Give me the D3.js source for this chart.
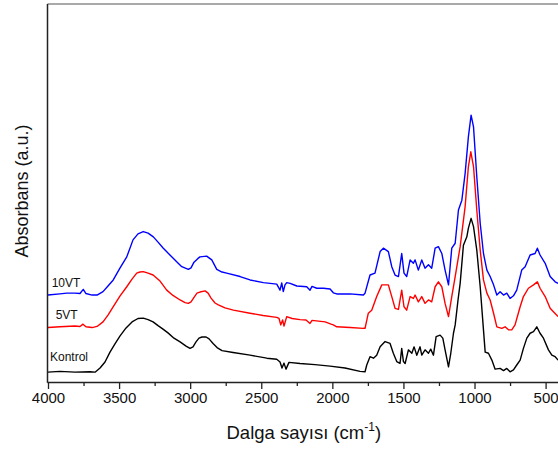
<!DOCTYPE html>
<html>
<head>
<meta charset="utf-8">
<script src="https://cdn.jsdelivr.net/npm/d3@7"></script>
<style>
  html, body { margin: 0; padding: 0; background: #fff; }
  svg { display: block; font-family: Arial, "Liberation Sans", sans-serif; }
</style>
</head>
<body>
<svg id="chart" width="558" height="451"></svg>
<script>
// ---- data (wavenumber in cm-1, absorbance in a.u.) ----
const kontrolWn = [4000,3916,3810,3705,3669,3634,3599,3564,3529,3493,3451,3409,3367,3330,3296,3261,3226,3191,3156,3114,3071,3029,3001,2980,2959,2938,2917,2888,2867,2839,2811,2776,2698,2579,2461,2391,2368,2354,2340,2326,2305,2227,2122,2016,1911,1805,1770,1758,1735,1711,1688,1664,1629,1594,1571,1547,1524,1512,1500,1488,1465,1441,1425,1406,1383,1371,1348,1324,1308,1289,1270,1242,1223,1207,1183,1167,1148,1136,1116,1101,1078,1054,1043,1024,1007,984,960,937,925,902,878,855,820,796,773,750,726,703,679,656,632,609,585,562,539,515,480,456,433,412];
const kontrolAbs = [0.026,0.028,0.026,0.027,0.026,0.037,0.053,0.079,0.101,0.122,0.143,0.159,0.168,0.169,0.165,0.159,0.149,0.140,0.130,0.116,0.106,0.095,0.089,0.093,0.106,0.116,0.119,0.119,0.114,0.102,0.091,0.083,0.078,0.071,0.063,0.060,0.053,0.037,0.050,0.034,0.052,0.049,0.046,0.042,0.037,0.028,0.027,0.045,0.067,0.063,0.071,0.093,0.107,0.102,0.076,0.054,0.049,0.089,0.054,0.049,0.085,0.076,0.093,0.071,0.093,0.071,0.085,0.076,0.087,0.071,0.120,0.124,0.116,0.085,0.040,0.076,0.129,0.151,0.217,0.261,0.362,0.384,0.407,0.433,0.411,0.349,0.252,0.138,0.079,0.076,0.058,0.034,0.036,0.030,0.036,0.027,0.032,0.045,0.058,0.089,0.116,0.129,0.133,0.146,0.129,0.116,0.085,0.071,0.067,0.058];

const vt5Wn = [4000,3916,3810,3775,3754,3733,3690,3655,3613,3578,3543,3493,3446,3409,3376,3353,3330,3296,3261,3212,3165,3121,3071,3036,3013,2994,2973,2952,2931,2895,2874,2853,2825,2802,2755,2696,2579,2487,2391,2375,2363,2350,2340,2321,2283,2227,2185,2157,2143,2051,2009,1993,1969,1875,1782,1770,1747,1723,1688,1652,1606,1582,1559,1535,1512,1496,1477,1453,1430,1418,1395,1371,1348,1324,1301,1277,1254,1230,1207,1183,1160,1136,1101,1066,1043,1026,1007,984,960,937,913,890,866,843,808,785,761,738,715,679,656,621,585,558,539,503,468,445,412];
const vt5Abs = [0.144,0.146,0.148,0.147,0.153,0.146,0.144,0.147,0.159,0.177,0.198,0.228,0.252,0.272,0.288,0.291,0.292,0.288,0.283,0.267,0.243,0.229,0.217,0.210,0.208,0.212,0.224,0.235,0.238,0.241,0.235,0.222,0.209,0.204,0.196,0.190,0.182,0.176,0.171,0.168,0.151,0.164,0.148,0.173,0.168,0.165,0.164,0.155,0.163,0.159,0.153,0.151,0.146,0.144,0.142,0.142,0.182,0.190,0.226,0.257,0.257,0.226,0.195,0.192,0.243,0.199,0.190,0.226,0.221,0.230,0.212,0.226,0.208,0.217,0.212,0.252,0.265,0.252,0.208,0.173,0.226,0.279,0.358,0.464,0.570,0.609,0.570,0.455,0.349,0.270,0.235,0.217,0.182,0.146,0.142,0.146,0.138,0.138,0.151,0.199,0.226,0.248,0.257,0.265,0.248,0.226,0.195,0.186,0.173];

const vt10Wn = [4000,3916,3868,3810,3775,3752,3733,3690,3655,3613,3578,3541,3493,3446,3402,3367,3330,3296,3259,3226,3189,3156,3121,3095,3059,3013,2994,2973,2945,2931,2884,2848,2813,2776,2743,2649,2579,2485,2391,2368,2356,2345,2333,2321,2297,2250,2180,2157,2143,2110,2063,2016,1993,1969,1875,1782,1770,1735,1700,1664,1641,1606,1582,1559,1535,1512,1496,1477,1453,1430,1418,1395,1371,1348,1324,1301,1277,1254,1230,1207,1183,1160,1136,1113,1089,1066,1043,1024,1007,984,960,937,913,890,866,843,820,796,773,750,726,703,668,644,609,574,558,539,503,468,433,412];
const vt10Abs = [0.230,0.233,0.235,0.235,0.234,0.245,0.234,0.230,0.230,0.239,0.254,0.270,0.302,0.331,0.376,0.392,0.398,0.394,0.384,0.370,0.354,0.341,0.328,0.318,0.305,0.298,0.302,0.317,0.327,0.331,0.333,0.323,0.298,0.291,0.288,0.279,0.270,0.263,0.259,0.243,0.262,0.239,0.257,0.263,0.261,0.254,0.252,0.243,0.253,0.248,0.248,0.246,0.236,0.233,0.233,0.230,0.235,0.283,0.288,0.345,0.354,0.345,0.305,0.283,0.279,0.340,0.288,0.279,0.323,0.314,0.323,0.296,0.323,0.301,0.310,0.301,0.354,0.358,0.340,0.296,0.257,0.354,0.367,0.455,0.481,0.552,0.649,0.706,0.675,0.543,0.420,0.340,0.296,0.279,0.257,0.230,0.239,0.230,0.235,0.221,0.228,0.243,0.296,0.305,0.336,0.340,0.354,0.336,0.314,0.279,0.265,0.261];

const seriesNames = ["Kontrol", "5VT", "10VT"];
const seriesColors = ["#000000", "#ff0000", "#0000ff"];
const xTicks = [4000, 3500, 3000, 2500, 2000, 1500, 1000, 500];
const xMinorTicks = [3750, 3250, 2750, 2250, 1750, 1250, 750];

// ---- layout ----
const svg = d3.select("#chart");
const W = 558, H = 451;
const plotLeft = 47.5, plotTop = 4, plotBottom = 382;

const x = d3.scaleLinear().domain([4000, 500]).range([48, 545.6]);
const y = d3.scaleLinear().domain([0, 1]).range([plotBottom, plotTop]);

const series = [
  { name: seriesNames[0], color: seriesColors[0], wn: kontrolWn, abs: kontrolAbs },
  { name: seriesNames[1], color: seriesColors[1], wn: vt5Wn, abs: vt5Abs },
  { name: seriesNames[2], color: seriesColors[2], wn: vt10Wn, abs: vt10Abs }
];

svg.append("defs").append("clipPath").attr("id", "clip")
  .append("rect").attr("x", plotLeft).attr("y", plotTop).attr("width", W - plotLeft).attr("height", plotBottom - plotTop);

const line = d3.line().x(d => x(d[0])).y(d => y(d[1])).curve(d3.curveLinear);

const g = svg.append("g").attr("clip-path", "url(#clip)");
series.forEach(s => {
  const pts = s.wn.map((w, i) => [w, s.abs[i]]);
  g.append("path").datum(pts)
    .attr("d", line)
    .attr("fill", "none")
    .attr("stroke", s.color)
    .attr("stroke-width", 1.4)
    .attr("stroke-linejoin", "round");
});

// top frame line (grey)
svg.append("line").attr("x1", plotLeft).attr("x2", W).attr("y1", plotTop).attr("y2", plotTop)
  .attr("stroke", "#8c8c8c").attr("stroke-width", 1.3);

// left axis line
svg.append("line").attr("x1", plotLeft).attr("x2", plotLeft).attr("y1", plotTop).attr("y2", plotBottom + 0.7)
  .attr("stroke", "#222").attr("stroke-width", 1.5);

// bottom axis
const xAxis = d3.axisBottom(x).tickValues(xTicks).tickFormat(d3.format("d"))
  .tickSize(7).tickSizeOuter(0).tickPadding(3);
const ax = svg.append("g").attr("transform", `translate(0,${plotBottom})`).call(xAxis);
ax.select(".domain").attr("stroke", "#222").attr("stroke-width", 1.5).attr("d", `M${plotLeft},0.5H${W}`);
ax.selectAll(".tick line").attr("stroke", "#222").attr("stroke-width", 1.3);
ax.selectAll(".tick text").attr("font-size", "15px").attr("fill", "#111")
  .attr("font-family", "Arial, 'Liberation Sans', sans-serif");

const axMinor = d3.axisBottom(x).tickValues(xMinorTicks).tickSize(4).tickFormat("");
const axm = svg.append("g").attr("transform", `translate(0,${plotBottom})`).call(axMinor);
axm.select(".domain").remove();
axm.selectAll(".tick line").attr("stroke", "#222").attr("stroke-width", 1.3);

// axis titles
const xt = svg.append("text").attr("x", 303.8).attr("y", 439)
  .attr("text-anchor", "middle").attr("font-size", "18.5px").attr("fill", "#111");
xt.append("tspan").text("Dalga sayısı (cm");
xt.append("tspan").attr("font-size", "12px").attr("dy", "-8").text("-1");
xt.append("tspan").attr("dy", "8").text(")");

svg.append("text")
  .attr("transform", "translate(28,191) rotate(-90)")
  .attr("text-anchor", "middle").attr("font-size", "18px").attr("fill", "#111")
  .text("Absorbans (a.u.)");

// series labels
const labelPos = { "Kontrol": [50, 361], "5VT": [55.7, 319], "10VT": [51.7, 287.3] };
series.forEach(s => {
  svg.append("text").attr("x", labelPos[s.name][0]).attr("y", labelPos[s.name][1])
    .attr("font-size", "12px").attr("fill", "#111").text(s.name);
});
</script>
</body>
</html>
